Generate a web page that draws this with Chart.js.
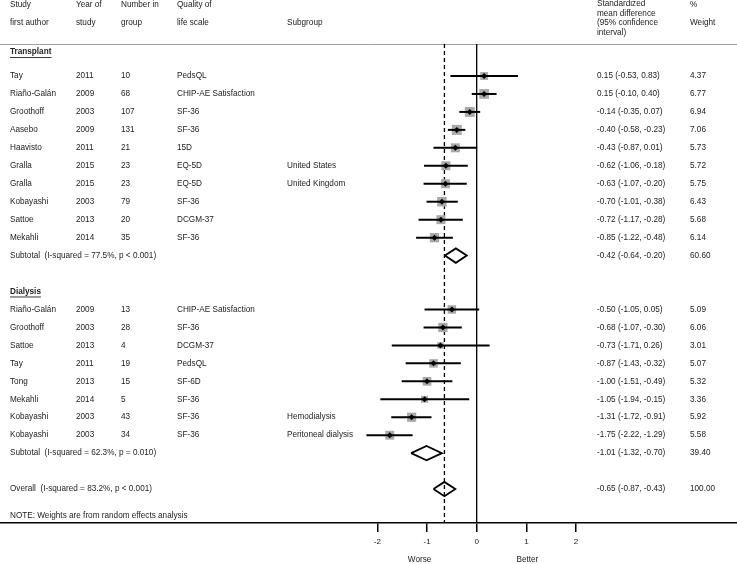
<!DOCTYPE html>
<html>
<head>
<meta charset="utf-8">
<script src="https://cdn.jsdelivr.net/npm/chart.js@4.4.1/dist/chart.umd.min.js"></script>
<style>
  html, body { margin: 0; padding: 0; background: #fff; }
</style>
</head>
<body>
<canvas id="forest" width="737" height="564"></canvas>
<script>
// transplant studies
const transplantAuthors = ['Tay', 'Riaño-Galán', 'Groothoff', 'Aasebo', 'Haavisto', 'Gralla', 'Gralla', 'Kobayashi', 'Sattoe', 'Mekahli'];
const transplantYears = [2011, 2009, 2003, 2009, 2011, 2015, 2015, 2003, 2013, 2014];
const transplantN = [10, 68, 107, 131, 21, 23, 23, 79, 20, 35];
const transplantScales = ['PedsQL', 'CHIP-AE Satisfaction', 'SF-36', 'SF-36', '15D', 'EQ-5D', 'EQ-5D', 'SF-36', 'DCGM-37', 'SF-36'];
const transplantSubgroups = ['', '', '', '', '', 'United States', 'United Kingdom', '', '', ''];
const transplantSmd = [0.15, 0.15, -0.14, -0.40, -0.43, -0.62, -0.63, -0.70, -0.72, -0.85];
const transplantLower = [-0.53, -0.10, -0.35, -0.58, -0.87, -1.06, -1.07, -1.01, -1.17, -1.22];
const transplantUpper = [0.83, 0.40, 0.07, -0.23, 0.01, -0.18, -0.20, -0.38, -0.28, -0.48];
const transplantWeight = [4.37, 6.77, 6.94, 7.06, 5.73, 5.72, 5.75, 6.43, 5.68, 6.14];

// dialysis studies
const dialysisAuthors = ['Riaño-Galán', 'Groothoff', 'Sattoe', 'Tay', 'Tong', 'Mekahli', 'Kobayashi', 'Kobayashi'];
const dialysisYears = [2009, 2003, 2013, 2011, 2013, 2014, 2003, 2003];
const dialysisN = [13, 28, 4, 19, 15, 5, 43, 34];
const dialysisScales = ['CHIP-AE Satisfaction', 'SF-36', 'DCGM-37', 'PedsQL', 'SF-6D', 'SF-36', 'SF-36', 'SF-36'];
const dialysisSubgroups = ['', '', '', '', '', '', 'Hemodialysis', 'Peritoneal dialysis'];
const dialysisSmd = [-0.50, -0.68, -0.73, -0.87, -1.00, -1.05, -1.31, -1.75];
const dialysisLower = [-1.05, -1.07, -1.71, -1.43, -1.51, -1.94, -1.72, -2.22];
const dialysisUpper = [0.05, -0.30, 0.26, -0.32, -0.49, -0.15, -0.91, -1.29];
const dialysisWeight = [5.09, 6.06, 3.01, 5.07, 5.32, 3.36, 5.92, 5.58];

// pooled estimates: transplant subtotal, dialysis subtotal, overall
const pooledLabels = ['Subtotal  (I-squared = 77.5%, p < 0.001)', 'Subtotal  (I-squared = 62.3%, p = 0.010)', 'Overall  (I-squared = 83.2%, p < 0.001)'];
const pooledSmd = [-0.42, -1.01, -0.65];
const pooledLower = [-0.64, -1.32, -0.87];
const pooledUpper = [-0.20, -0.70, -0.43];
const pooledWeight = [60.60, 39.40, 100.00];

const xTicks = [-2, -1, 0, 1, 2];

const FONT = '"Liberation Sans", Arial, sans-serif';
const TEXT = '#222';
const FSIZE = 8.2;

// row layout (one unit = one table row)
const tRows = transplantSmd.map((_, i) => i);
const tSubRow = transplantSmd.length;
const dHeadRow = tSubRow + 2;
const dRows = dialysisSmd.map((_, i) => dHeadRow + 1 + i);
const dSubRow = dHeadRow + 1 + dialysisSmd.length;
const overallRow = dSubRow + 2;
const noteRow = overallRow + 1.5;
const tHeadRow = -1.33;
const headerLineRow = -1.78;
const pooledRows = [tSubRow, dSubRow, overallRow];

const allRows = tRows.concat(dRows);
const allSmd = transplantSmd.concat(dialysisSmd);
const allLower = transplantLower.concat(dialysisLower);
const allUpper = transplantUpper.concat(dialysisUpper);
const allWeight = transplantWeight.concat(dialysisWeight);

const ROW_PX = 17.96;
const AXIS_Y = 523;
const yMin = -76 / ROW_PX;
const yMax = (AXIS_Y - 76) / ROW_PX;

const datasets = [];

// black centre points
datasets.push({
  data: allSmd.map((v, i) => ({ x: v, y: allRows[i] })),
  pointStyle: 'rectRot', pointRadius: 3, backgroundColor: '#000', borderWidth: 0, order: 0
});

// confidence intervals
allSmd.forEach((v, i) => {
  datasets.push({
    data: [{ x: allLower[i], y: allRows[i] }, { x: allUpper[i], y: allRows[i] }],
    showLine: true, borderColor: '#000', borderWidth: 2, pointRadius: 0, order: 1
  });
});

// pooled diamonds
const halfH = 7.2 / ROW_PX;
pooledSmd.forEach((v, i) => {
  const r = pooledRows[i];
  datasets.push({
    data: [
      { x: pooledLower[i], y: r }, { x: v, y: r - halfH },
      { x: pooledUpper[i], y: r }, { x: v, y: r + halfH },
      { x: pooledLower[i], y: r }
    ],
    showLine: true, borderColor: '#000', borderWidth: 1.8, pointRadius: 0,
    borderJoinStyle: 'miter', order: 1
  });
});

// weight boxes
datasets.push({
  data: allSmd.map((v, i) => ({ x: v, y: allRows[i] })),
  pointStyle: 'rect',
  pointRadius: allWeight.map(w => 3.76 * Math.sqrt(w) / Math.SQRT2),
  backgroundColor: '#a9a9a9', borderWidth: 0, order: 2
});

// no-effect line and overall estimate line
datasets.push({
  data: [{ x: 0, y: headerLineRow }, { x: 0, y: yMax }],
  showLine: true, borderColor: '#000', borderWidth: 1.3, pointRadius: 0, order: 5
});
datasets.push({
  data: [{ x: pooledSmd[2], y: headerLineRow }, { x: pooledSmd[2], y: yMax }],
  showLine: true, borderColor: '#000', borderWidth: 1.3, borderDash: [4, 3], pointRadius: 0, order: 5
});

const fmt = v => v.toFixed(2);

const tablePlugin = {
  id: 'table',
  beforeDatasetsDraw(chart) {
    const c = chart.ctx;
    const y = Math.round(chart.scales.y.getPixelForValue(headerLineRow)) + 0.5;
    c.save();
    c.strokeStyle = '#a0a0a0';
    c.lineWidth = 1;
    c.beginPath();
    c.moveTo(0, y);
    c.lineTo(chart.width, y);
    c.stroke();
    c.restore();
  },
  afterDraw(chart) {
    const c = chart.ctx;
    const ys = chart.scales.y, xs = chart.scales.x;
    const Y = r => ys.getPixelForValue(r);
    const cols = [10, 76, 121, 177, 287];
    const ciX = 597, wX = 690;
    const f = `${FSIZE}px ${FONT}`;
    c.save();
    c.fillStyle = TEXT;
    c.textBaseline = 'middle';
    c.textAlign = 'left';
    c.font = f;

    // headers
    c.fillText('Study', cols[0], 5);
    c.fillText('first author', cols[0], 23);
    c.fillText('Year of', cols[1], 5);
    c.fillText('study', cols[1], 23);
    c.fillText('Number in', cols[2], 5);
    c.fillText('group', cols[2], 23);
    c.fillText('Quality of', cols[3], 5);
    c.fillText('life scale', cols[3], 23);
    c.fillText('Subgroup', cols[4], 23);
    ['Standardized', 'mean difference', '(95% confidence', 'interval)'].forEach((t, i) => c.fillText(t, ciX, 4 + i * 9.5));
    c.fillText('%', wX, 5);
    c.fillText('Weight', wX, 23);

    const heading = (t, r) => {
      c.font = `bold ${FSIZE}px ${FONT}`;
      const py = Y(r);
      c.fillText(t, cols[0], py);
      const w = c.measureText(t).width;
      c.fillRect(cols[0], py + 5, w, 0.9);
      c.font = f;
    };
    heading('Transplant', tHeadRow);
    heading('Dialysis', dHeadRow);

    const block = (rows, au, yr, n, sc, sg, smd, lo, hi, w) => {
      rows.forEach((r, i) => {
        const py = Y(r);
        c.fillText(au[i], cols[0], py);
        c.fillText(String(yr[i]), cols[1], py);
        c.fillText(String(n[i]), cols[2], py);
        c.fillText(sc[i], cols[3], py);
        if (sg[i]) c.fillText(sg[i], cols[4], py);
        c.fillText(`${fmt(smd[i])} (${fmt(lo[i])}, ${fmt(hi[i])})`, ciX, py);
        c.fillText(fmt(w[i]), wX, py);
      });
    };
    block(tRows, transplantAuthors, transplantYears, transplantN, transplantScales, transplantSubgroups,
      transplantSmd, transplantLower, transplantUpper, transplantWeight);
    block(dRows, dialysisAuthors, dialysisYears, dialysisN, dialysisScales, dialysisSubgroups,
      dialysisSmd, dialysisLower, dialysisUpper, dialysisWeight);

    pooledRows.forEach((r, i) => {
      const py = Y(r);
      c.fillText(pooledLabels[i], cols[0], py);
      c.fillText(`${fmt(pooledSmd[i])} (${fmt(pooledLower[i])}, ${fmt(pooledUpper[i])})`, ciX, py);
      c.fillText(fmt(pooledWeight[i]), wX, py);
    });

    c.fillText('NOTE: Weights are from random effects analysis', cols[0], Y(noteRow));

    c.textAlign = 'center';
    c.fillText('Worse', xs.getPixelForValue(-1.15), 560);
    c.fillText('Better', xs.getPixelForValue(1.02), 560);
    c.restore();
  }
};

new Chart(document.getElementById('forest'), {
  type: 'scatter',
  data: { datasets },
  plugins: [tablePlugin],
  options: {
    responsive: false,
    animation: false,
    events: [],
    layout: { padding: 0, autoPadding: false },
    plugins: { legend: { display: false }, tooltip: { enabled: false } },
    scales: {
      x: {
        type: 'linear',
        min: -476.7 / 49.67,
        max: (737 - 476.7) / 49.67,
        afterBuildTicks: s => { s.ticks = xTicks.map(v => ({ value: v })); },
        afterFit: s => { s.height = 564 - AXIS_Y; },
        grid: { drawOnChartArea: false, drawTicks: true, tickLength: 9, color: '#000', lineWidth: 1.5 },
        border: { display: true, color: '#000', width: 1.5 },
        ticks: { color: TEXT, font: { family: FONT, size: 8 }, padding: 5, maxRotation: 0, autoSkip: false }
      },
      y: {
        type: 'linear', display: false, reverse: true, min: yMin, max: yMax
      }
    }
  }
});
</script>
</body>
</html>
